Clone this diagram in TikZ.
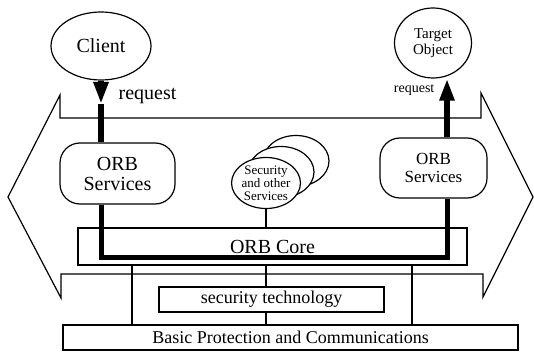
\documentclass[tikz,border=0pt]{standalone}
\usepackage{fontspec}
\setmainfont{Liberation Serif}
\usetikzlibrary{arrows.meta, shapes.geometric}

\begin{document}
\begin{tikzpicture}[x=0.5pt, y=-0.5pt,
  blob/.style={draw=black, ellipse, inner sep=0pt, align=center, fill=white,
               font=\fontsize{10}{10}\selectfont},
  svc/.style={draw=black, rounded corners=10pt, inner sep=0pt, align=center, fill=white,
              font=\fontsize{10}{10}\selectfont},
  band/.style={draw=black, rectangle, inner sep=0pt, fill=white,
               font=\fontsize{10}{10}\selectfont},
  req/.style={-{Triangle[length=11pt, width=7pt]}, line width=3pt, black},
  bus/.style={line width=2.5pt, black},
  wire/.style={line width=0.6pt, black},
  lbl/.style={font=\fontsize{10}{10}\selectfont},
  line width=0.6pt
]
\useasboundingbox (0,0) rectangle (534,352);
% big two-way arrow
\draw[wire] (60,95) -- (8,197) -- (61,298) -- (61,274) -- (483,274) -- (483,297)
  -- (533,197) -- (481,93) -- (481,118) -- (60,118) -- cycle;
% objects
\node[blob, minimum width=50pt, minimum height=34pt](client) at (101,46){Client};
\node[blob, minimum width=38.5pt, minimum height=35pt,
  font=\fontsize{7.5}{8}\selectfont](target) at (433,43){Target\\ Object};
% ORB services
\node[svc, minimum width=57.5pt, minimum height=30.5pt](orbL) at (117.5,173.5){ORB\\ Services};
\node[svc, minimum width=53.5pt, minimum height=30pt,
  font=\fontsize{8.5}{9}\selectfont](orbR) at (433.5,168){ORB\\ Services};
% security and other services
\node[blob, minimum width=33pt, minimum height=25.5pt](sec3) at (296,161){};
\node[blob, minimum width=33pt, minimum height=25.5pt](sec2) at (281,172){};
\node[blob, minimum width=33pt, minimum height=25.5pt,
  font=\fontsize{6.5}{6.5}\selectfont](sec) at (266,183){Security\\ and other\\ Services};
% layers
\node[band, minimum width=194.5pt, minimum height=18.5pt](core) at (272.5,246.5){ORB Core};
\node[band, minimum width=112.5pt, minimum height=12.5pt,
  font=\fontsize{9}{9}\selectfont](sectech) at (271.5,299.5){security technology};
\node[band, minimum width=227.5pt, minimum height=12.5pt,
  font=\fontsize{9}{9}\selectfont](bpc) at (290.5,337.5){Basic Protection and Communications};
% wires
\coordinate (w1) at (132,0);
\coordinate (w2) at (412,0);
\draw[wire] (sec) -- (sec |- core.north);
\draw[wire] (core.south -| w1) -- (bpc.north -| w1);
\draw[wire] (core.south -| w2) -- (bpc.north -| w2);
\draw[wire] (core.south -| sec) -- (sectech.north -| sec);
\draw[wire] (sectech.south -| sec) -- (bpc.north -| sec);
% requests
\coordinate (reqL) at (101,104);
\coordinate (reqR) at (447,0);
\coordinate (busmid) at (272,257);
\draw[req] (client.south) -- node[lbl, right=4pt, pos=0.67]{request} (reqL);
\draw[bus, line width=3pt] (reqL) -- (orbL.north -| reqL);
\draw[req] (orbR.north -| reqR) -- node[lbl, left=1.5pt, pos=0.8,
  font=\fontsize{7}{7}\selectfont]{request} (target.south -| reqR);
\draw[bus] (orbL.south -| reqL) |- (busmid) -| (orbR.south -| reqR);
\end{tikzpicture}
\end{document}
